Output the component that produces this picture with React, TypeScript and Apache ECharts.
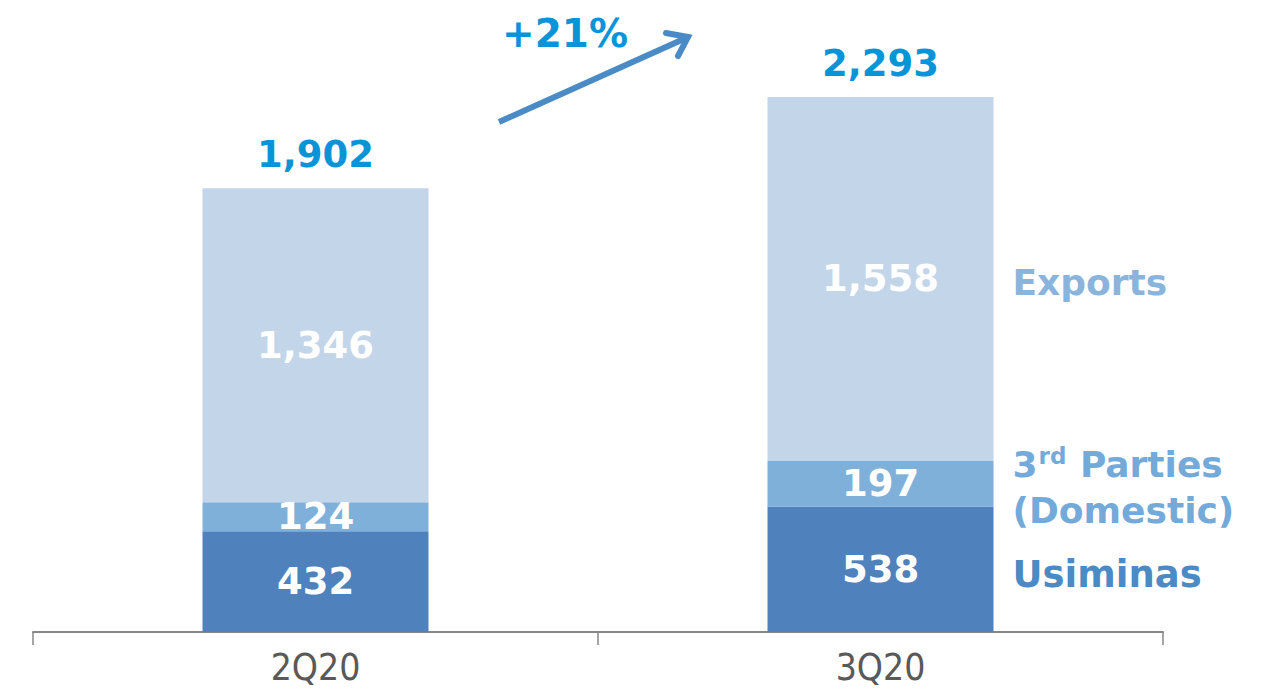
import React, { useEffect, useRef } from "react";
import * as echarts from "echarts";

const categories = ["2Q20", "3Q20"];
const usiminas = [432, 538];
const thirdParties = [124, 197];
const exportsVals = [1346, 1558];
const totals = [1902, 2293];
const growthLabel = "+21%";

const FONT = "DejaVu Sans, Verdana, sans-serif";

export default function App() {
  const ref = useRef<HTMLDivElement>(null);
  useEffect(() => {
    const chart = echarts.init(ref.current!, null, { renderer: "svg" });
    const valueLabel = {
      show: true,
      position: "inside",
      color: "#ffffff",
      fontFamily: FONT,
      fontWeight: "bold",
      fontSize: 37,
      formatter: (p: any) => Number(p.value).toLocaleString("en-US"),
    };
    chart.setOption({
      animation: false,
      grid: { left: 33, right: 104, top: 72, bottom: 58 },
      xAxis: {
        type: "category",
        data: categories,
        axisLine: { lineStyle: { color: "#878787", width: 2 } },
        axisTick: { show: true, length: 13, lineStyle: { color: "#878787", width: 1.5 } },
        axisLabel: {
          color: "#595959",
          fontSize: 37,
          lineHeight: 40,
          fontFamily: "Liberation Sans Narrow, DejaVu Sans Condensed, sans-serif",
          margin: 15,
        },
      },
      yAxis: { type: "value", min: 0, max: 2400, show: false },
      series: [
        {
          name: "Usiminas",
          type: "bar",
          stack: "t",
          barWidth: "40%",
          data: usiminas,
          itemStyle: { color: "#4F81BD" },
          label: valueLabel,
        },
        {
          name: "3rd Parties (Domestic)",
          type: "bar",
          stack: "t",
          data: thirdParties,
          itemStyle: { color: "#7FB0DA" },
          label: valueLabel,
        },
        {
          name: "Exports",
          type: "bar",
          stack: "t",
          data: exportsVals,
          itemStyle: { color: "#C3D5E9" },
          label: valueLabel,
        },
        {
          name: "Total",
          type: "bar",
          stack: "t",
          data: totals.map(() => 0),
          itemStyle: { color: "transparent" },
          label: {
            show: true,
            position: "top",
            distance: 15,
            color: "#0A94D8",
            fontFamily: FONT,
            fontWeight: "bold",
            fontSize: 37,
            formatter: (p: any) => totals[p.dataIndex].toLocaleString("en-US"),
          },
        },
      ],
    });

    const i = categories.length - 1;
    const px = (cat: string, v: number) => chart.convertToPixel({ gridIndex: 0 }, [cat, v]);
    const cat = categories[i];
    const uMid = px(cat, usiminas[i] / 2)[1];
    const tMid = px(cat, usiminas[i] + thirdParties[i] / 2)[1];
    const eMid = px(cat, usiminas[i] + thirdParties[i] + exportsVals[i] / 2)[1];
    const cx = px(cat, 0)[0];
    const lx = cx + 132;

    chart.setOption({
      graphic: [
        {
          type: "text",
          x: lx,
          y: eMid + 4,
          style: {
            text: "Exports",
            fill: "#8AB4DC",
            font: `bold 36px ${FONT}`,
            verticalAlign: "middle",
          },
        },
        {
          type: "text",
          x: lx,
          y: tMid + 4,
          style: {
            text: "{a|3}{s|rd}{a| Parties}\n{a|(Domestic)}",
            verticalAlign: "middle",
            rich: {
              a: { fill: "#73AAD9", fontFamily: FONT, fontWeight: "bold", fontSize: 36, lineHeight: 46 },
              s: { fill: "#73AAD9", fontFamily: FONT, fontWeight: "bold", fontSize: 23, lineHeight: 46, verticalAlign: "top", padding: [3, 1, 0, 1] },
            },
          },
        },
        {
          type: "text",
          x: lx,
          y: uMid + 5,
          style: {
            text: "Usiminas",
            fill: "#4A8BC6",
            font: `bold 37px ${FONT}`,
            verticalAlign: "middle",
          },
        },
        {
          type: "text",
          x: 565,
          y: 33,
          style: {
            text: growthLabel,
            fill: "#0A94D8",
            font: `bold 39px ${FONT}`,
            align: "center",
            verticalAlign: "middle",
          },
        },
        {
          type: "line",
          shape: { x1: 499, y1: 122, x2: 686, y2: 38 },
          style: { stroke: "#4A8BC6", lineWidth: 6, lineCap: "butt" },
        },
        {
          type: "polyline",
          shape: { points: [[666, 33], [688, 37], [678, 56]] },
          style: { stroke: "#4A8BC6", lineWidth: 6, fill: "none", lineCap: "round", lineJoin: "miter" },
        },
      ],
    });

    return () => chart.dispose();
  }, []);
  return (
    <div
      ref={ref}
      style={{ position: "fixed", left: 0, top: 0, width: 1267, height: 690, background: "#ffffff" }}
    />
  );
}
